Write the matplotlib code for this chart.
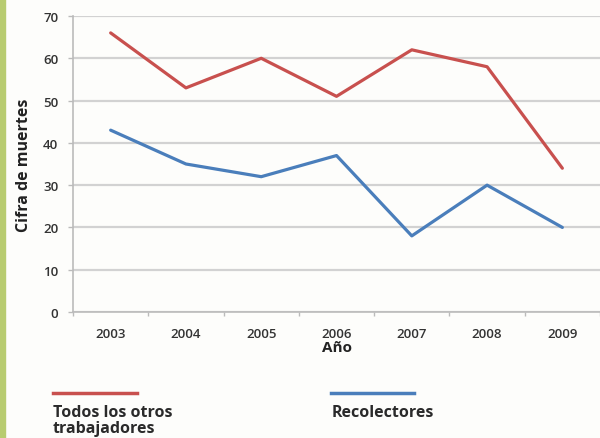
import matplotlib
matplotlib.use("Agg")
from matplotlib import pyplot as plt
from matplotlib.lines import Line2D
import numpy as np

years = ["2003", "2004", "2005", "2006", "2007", "2008", "2009"]
otros = [66, 53, 60, 51, 62, 58, 34]       # Todos los otros trabajadores
recolectores = [43, 35, 32, 37, 18, 30, 20]

plt.rcParams['font.family'] = ['Open Sans', 'DejaVu Sans']

fig = plt.figure(figsize=(6.0, 4.39), dpi=100)
fig.patch.set_facecolor("#fdfdfb")

# franja verde a la izquierda
fig.patches.append(plt.Rectangle((0, 0), 0.009, 1, transform=fig.transFigure,
                                 color="#b8cc70", zorder=0))

ax = fig.add_axes([0.1217, 0.2870, 0.8783, 0.6743])
ax.set_facecolor("#fdfdfb")
x = np.arange(len(years))

ax.plot(x, otros, color="#c8504e", lw=2.3, solid_capstyle="round")
ax.plot(x, recolectores, color="#4a7ebb", lw=2.3, solid_capstyle="round")

ax.set_xlim(-0.5, len(years) - 0.5)
ax.set_ylim(0, 70)
ax.set_yticks(range(0, 71, 10))
ax.set_xticks(x)
ax.set_xticklabels(years)
ax.set_xticks(np.arange(-0.5, len(years), 1), minor=True)
ax.tick_params(axis="x", which="major", length=0, pad=11, labelsize=9.5, labelcolor="#333333")
ax.tick_params(axis="x", which="minor", length=3, direction="out", color="#bbbbbb", width=1)
ax.tick_params(axis="y", length=3.5, color="#bbbbbb", width=1, pad=7, labelsize=9.5, labelcolor="#333333")
for lbl in ax.get_xticklabels() + ax.get_yticklabels():
    lbl.set_fontweight("semibold")

ax.grid(axis="y", color="#d2d2d2", lw=1.6)
ax.set_axisbelow(True)
for s in ["top", "right"]:
    ax.spines[s].set_visible(False)
ax.spines["left"].set_color("#bbbbbb")
ax.spines["bottom"].set_color("#bbbbbb")
ax.spines["left"].set_linewidth(1.2)
ax.spines["bottom"].set_linewidth(1.2)

ax.set_ylabel("Cifra de muertes", fontsize=11.5, fontweight="bold", color="#222222", labelpad=8)
ax.set_xlabel("Año", fontsize=11, fontweight="bold", color="#222222", labelpad=0)

# leyenda debajo
fig.add_artist(Line2D([53/600, 137/600], [1-394/439, 1-394/439], color="#c8504e", lw=2.5))
fig.add_artist(Line2D([331/600, 414/600], [1-394/439, 1-394/439], color="#4a7ebb", lw=2.5))
fig.text(53/600, 1-405/439, "Todos los otros\ntrabajadores", fontsize=11.5, fontweight="bold",
         color="#2a2a2a", va="top", ha="left", linespacing=0.98)
fig.text(332/600, 1-405/439, "Recolectores", fontsize=11.5, fontweight="bold",
         color="#2a2a2a", va="top", ha="left")

fig.savefig("out.png", dpi=100, facecolor=fig.get_facecolor())
